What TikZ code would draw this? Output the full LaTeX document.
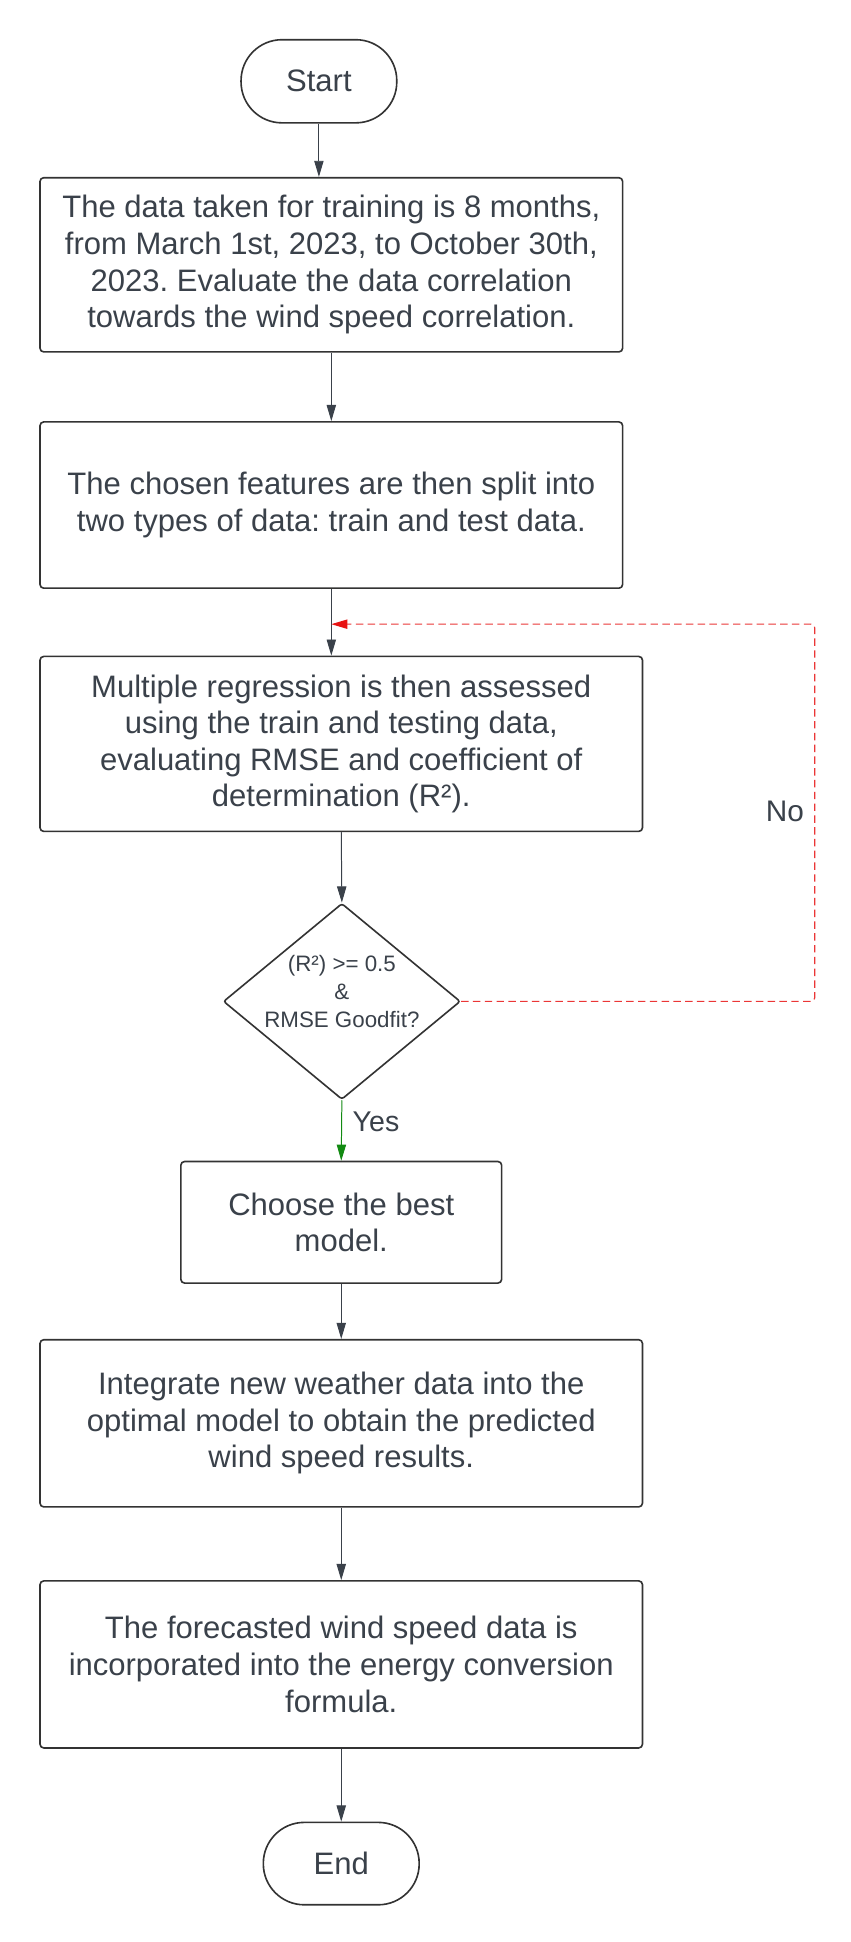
\documentclass[tikz,border=0pt]{standalone}
\usepackage{fontspec}
\setmainfont{Liberation Sans}
\usetikzlibrary{arrows.meta,shapes.geometric}
\definecolor{txt}{HTML}{3A414A}
\definecolor{edgec}{HTML}{333333}
\definecolor{connc}{HTML}{3A414A}
\definecolor{nored}{HTML}{E81313}
\definecolor{yesgreen}{HTML}{128A12}
\frenchspacing
\begin{document}
\begin{tikzpicture}[x=1pt,y=-1pt,
  box/.style={draw=edgec, line width=1.3pt, rounded corners=3pt, text=txt, align=center, inner sep=0pt, font=\fontsize{25}{29.5}\selectfont},
  term/.style={box, rounded corners=33pt},
  lbl/.style={text=txt, inner sep=0pt, font=\fontsize{24}{28}\selectfont},
  conn/.style={draw=connc, line width=0.8pt, -{Triangle[length=13pt,width=7.5pt]}},
  yesconn/.style={draw=yesgreen, line width=0.8pt, -{Triangle[length=13pt,width=7.5pt,fill=yesgreen]}},
  noconn/.style={draw=nored!85, line width=0.9pt, dash pattern=on 6pt off 3.5pt, rounded corners=3pt, -{Triangle[length=13pt,width=7.5pt,fill=nored,color=nored]}}
]
\useasboundingbox (0,0) rectangle (685,1565);
\fill[white] (0,0) rectangle (685,1565);

\node[term, minimum width=125.5pt, minimum height=67pt] (start) at (257,65.5) {Start};
\node[box, minimum width=469.5pt, minimum height=140.4pt] (b1) at (267,213.4)
  {The data taken for training is 8 months,\\from March 1st, 2023, to October 30th,\\2023. Evaluate the data correlation\\towards the wind speed correlation.};
\node[box, minimum width=469.5pt, minimum height=134pt] (b2) at (267,407)
  {The chosen features are then split into\\two types of data: train and test data.};
\node[box, minimum width=485.5pt, minimum height=141pt] (b3) at (275,599.5)
  {Multiple regression is then assessed\\using the train and testing data,\\evaluating RMSE and coefficient of\\determination (R²).};
\node[draw=edgec, line width=1.3pt, diamond, minimum width=191pt, minimum height=158pt, inner sep=0pt, rounded corners=2pt] (d) at (275.5,807) {};
\node[text=txt, align=center, inner sep=0pt, font=\fontsize{18}{22.5}\selectfont] (dtext) at (275.5,799)
  {(R²) >= 0.5\\\&\\RMSE Goodfit?};
\node[box, minimum width=258.5pt, minimum height=98pt] (choose) at (275,985)
  {Choose the best\\model.};
\node[box, minimum width=485.5pt, minimum height=134.7pt] (b5) at (275,1147)
  {Integrate new weather data into the\\optimal model to obtain the predicted\\wind speed results.};
\node[box, minimum width=485.5pt, minimum height=134.6pt] (b6) at (275,1341.3)
  {The forecasted wind speed data is\\incorporated into the energy conversion\\formula.};
\node[term, minimum width=125.6pt, minimum height=66.4pt] (end) at (275,1501.8) {End};

\draw[conn] (start.south) -- (start.south |- b1.north);
\draw[conn] (b1.south) -- (b2.north);
\draw[conn] (b2.south) -- (b2.south |- b3.north);
\draw[conn] (b3.south) -- (d.north);
\draw[yesconn] (d.south) -- (choose.north);
\draw[conn] (choose.south) -- (b5.north);
\draw[conn] (b5.south) -- (b6.north);
\draw[conn] (b6.south) -- (end.north);

\coordinate (nr) at (656.6,503);
\coordinate (nj) at (267,503);
\draw[noconn] (d.east) -| (nr) -- (nj);

\node[lbl] (no) at (632.5,653.6) {No};
\node[lbl, font=\fontsize{23}{27}\selectfont] (yes) at (303,904) {Yes};
\end{tikzpicture}
\end{document}
